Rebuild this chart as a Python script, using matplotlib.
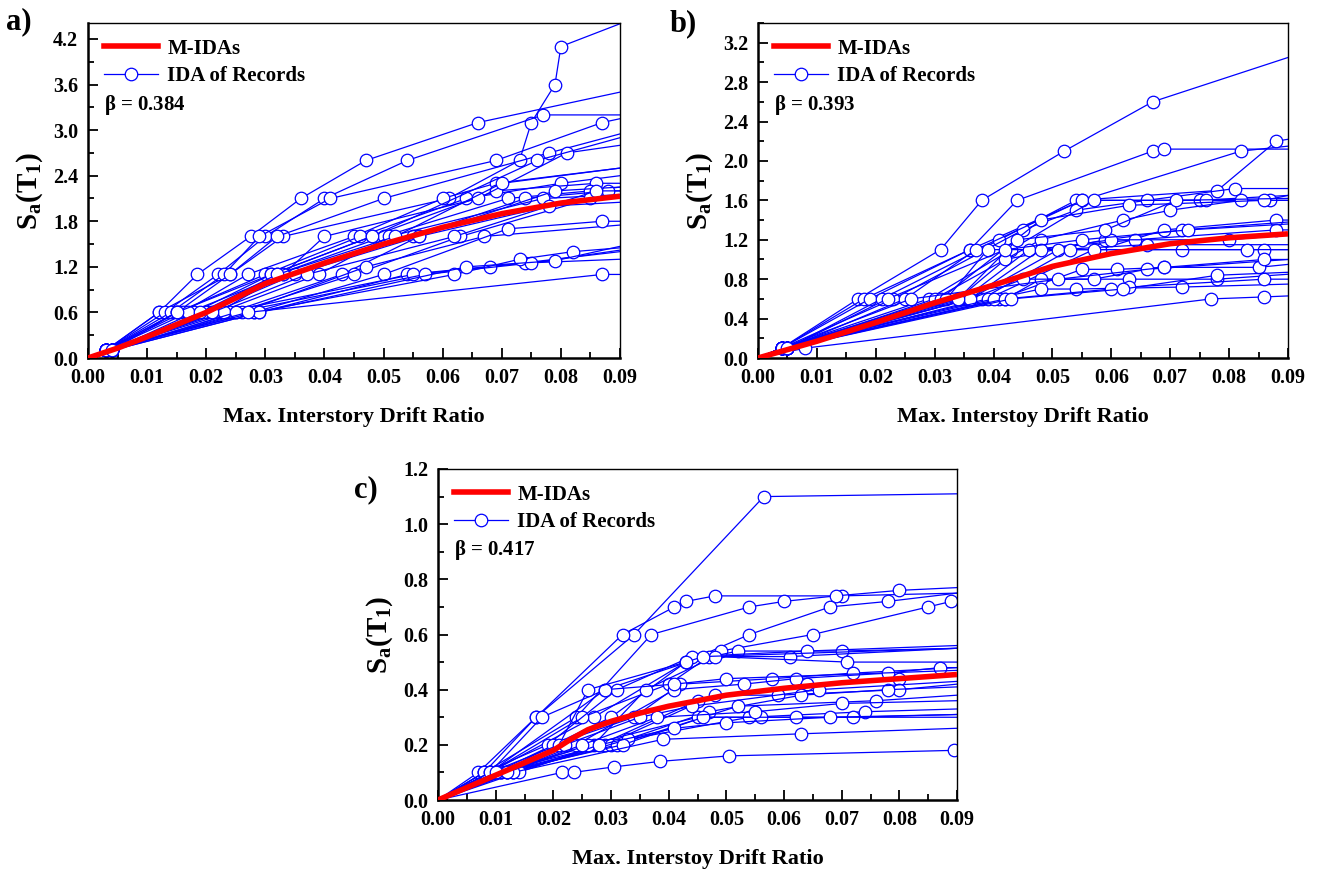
import numpy as np
import matplotlib
matplotlib.use("Agg")
import matplotlib.pyplot as plt
from matplotlib.lines import Line2D
from matplotlib.ticker import MultipleLocator, FormatStrFormatter

plt.rcParams['font.family'] = 'Liberation Serif'
plt.rcParams['font.weight'] = 'bold'
plt.rcParams['mathtext.fontset'] = 'custom'
plt.rcParams['mathtext.rm'] = 'Liberation Serif:bold'
plt.rcParams['mathtext.it'] = 'Liberation Serif:bold'
plt.rcParams['mathtext.bf'] = 'Liberation Serif:bold'

# IDA curves of the records, (drift, Sa) points, origin added when drawn
rec_a = [
    [(0.003, 0.1), (0.012, 0.6), (0.024, 1.1), (0.033, 1.6), (0.061, 2.1), (0.073, 2.6), (0.075, 3.1), (0.079, 3.6), (0.080, 4.1), (0.09, 4.4)],
    [(0.003, 0.1), (0.012, 0.6), (0.0185, 1.1), (0.0275, 1.6), (0.036, 2.1), (0.047, 2.6), (0.066, 3.1), (0.09, 3.5)],
    [(0.003, 0.1), (0.013, 0.6), (0.022, 1.1), (0.030, 1.6), (0.040, 2.1), (0.054, 2.6), (0.077, 3.2), (0.09, 3.2)],
    [(0.003, 0.1), (0.014, 0.6), (0.023, 1.1), (0.029, 1.6), (0.041, 2.1), (0.069, 2.6), (0.087, 3.1), (0.09, 3.15)],
    [(0.004, 0.1), (0.015, 0.6), (0.024, 1.1), (0.032, 1.6), (0.050, 2.1), (0.078, 2.7), (0.09, 2.95)],
    [(0.003, 0.1), (0.016, 0.6), (0.027, 1.1), (0.045, 1.6), (0.060, 2.1), (0.069, 2.3), (0.09, 2.5)],
    [(0.003, 0.1), (0.015, 0.6), (0.030, 1.1), (0.046, 1.6), (0.064, 2.1), (0.080, 2.3), (0.09, 2.4)],
    [(0.004, 0.1), (0.018, 0.6), (0.031, 1.1), (0.048, 1.6), (0.069, 2.2), (0.086, 2.3), (0.09, 2.3)],
    [(0.004, 0.1), (0.020, 0.6), (0.032, 1.1), (0.050, 1.6), (0.071, 2.1), (0.085, 2.2), (0.09, 2.25)],
    [(0.003, 0.1), (0.022, 0.6), (0.033, 1.1), (0.055, 1.6), (0.074, 2.1), (0.088, 2.2), (0.09, 2.2)],
    [(0.004, 0.1), (0.022, 0.6), (0.039, 1.1), (0.051, 1.6), (0.077, 2.1), (0.09, 2.15)],
    [(0.003, 0.1), (0.024, 0.6), (0.043, 1.1), (0.056, 1.6), (0.079, 2.2), (0.09, 2.25)],
    [(0.004, 0.1), (0.025, 0.6), (0.045, 1.1), (0.063, 1.6), (0.085, 2.1), (0.09, 2.15)],
    [(0.003, 0.1), (0.020, 0.6), (0.035, 1.1), (0.056, 1.6), (0.078, 2.0), (0.09, 2.05)],
    [(0.004, 0.1), (0.026, 0.6), (0.047, 1.2), (0.067, 1.6), (0.09, 1.75)],
    [(0.003, 0.1), (0.028, 0.6), (0.050, 1.1), (0.071, 1.7), (0.087, 1.8), (0.09, 1.8)],
    [(0.004, 0.1), (0.029, 0.6), (0.054, 1.1), (0.074, 1.25), (0.09, 1.3)],
    [(0.003, 0.1), (0.023, 0.6), (0.055, 1.1), (0.068, 1.2), (0.09, 1.4)],
    [(0.004, 0.1), (0.025, 0.6), (0.057, 1.1), (0.075, 1.25), (0.09, 1.42)],
    [(0.003, 0.1), (0.028, 0.6), (0.062, 1.1), (0.073, 1.3), (0.082, 1.4), (0.09, 1.45)],
    [(0.004, 0.1), (0.029, 0.6), (0.064, 1.2), (0.079, 1.28), (0.09, 1.47)],
    [(0.003, 0.1), (0.027, 0.6), (0.087, 1.1), (0.09, 1.1)],
    [(0.004, 0.1), (0.021, 0.6), (0.037, 1.1), (0.062, 1.6), (0.086, 2.2), (0.09, 2.2)],
    [(0.003, 0.1), (0.017, 0.6), (0.033, 1.1), (0.040, 1.6), (0.066, 2.1), (0.081, 2.7), (0.09, 2.8)],
    [(0.003, 0.1), (0.015, 0.6), (0.031, 1.1), (0.048, 1.6), (0.076, 2.6), (0.09, 2.9)],
    [(0.004, 0.1), (0.019, 0.6), (0.032, 1.1), (0.052, 1.6), (0.070, 2.3), (0.09, 2.5)],
]

rec_b = [
    [(0.004, 0.1), (0.017, 0.6), (0.031, 1.1), (0.038, 1.6), (0.052, 2.1), (0.067, 2.6), (0.09, 3.05)],
    [(0.004, 0.1), (0.018, 0.6), (0.036, 1.1), (0.044, 1.6), (0.067, 2.1), (0.069, 2.12), (0.09, 2.12)],
    [(0.004, 0.1), (0.019, 0.6), (0.036, 1.1), (0.055, 1.6), (0.082, 2.1), (0.09, 2.15)],
    [(0.005, 0.1), (0.021, 0.6), (0.041, 1.2), (0.054, 1.6), (0.078, 1.7), (0.088, 2.2), (0.09, 2.22)],
    [(0.004, 0.1), (0.023, 0.6), (0.045, 1.3), (0.054, 1.5), (0.066, 1.6), (0.081, 1.72), (0.09, 1.72)],
    [(0.005, 0.1), (0.025, 0.6), (0.037, 1.1), (0.055, 1.6), (0.075, 1.6), (0.09, 1.65)],
    [(0.004, 0.1), (0.029, 0.6), (0.043, 1.1), (0.057, 1.6), (0.076, 1.6), (0.087, 1.6), (0.09, 1.6)],
    [(0.005, 0.1), (0.030, 0.6), (0.048, 1.2), (0.062, 1.4), (0.070, 1.5), (0.082, 1.6), (0.09, 1.6)],
    [(0.004, 0.1), (0.031, 0.6), (0.048, 1.4), (0.063, 1.55), (0.086, 1.6), (0.09, 1.65)],
    [(0.004, 0.1), (0.032, 0.6), (0.039, 1.1), (0.058, 1.1), (0.069, 1.3), (0.088, 1.4), (0.09, 1.4)],
    [(0.005, 0.1), (0.034, 0.6), (0.042, 1.0), (0.059, 1.2), (0.072, 1.3), (0.09, 1.38)],
    [(0.004, 0.1), (0.035, 0.6), (0.046, 1.1), (0.064, 1.2), (0.088, 1.3), (0.09, 1.3)],
    [(0.005, 0.1), (0.036, 0.6), (0.048, 1.1), (0.060, 1.2), (0.080, 1.2), (0.09, 1.25)],
    [(0.004, 0.1), (0.036, 0.6), (0.051, 1.1), (0.066, 1.15), (0.09, 1.15)],
    [(0.005, 0.1), (0.038, 0.6), (0.053, 1.1), (0.072, 1.1), (0.086, 1.1), (0.09, 1.1)],
    [(0.004, 0.1), (0.039, 0.6), (0.057, 1.1), (0.083, 1.1), (0.09, 1.1)],
    [(0.005, 0.1), (0.041, 0.6), (0.055, 0.9), (0.061, 0.9), (0.069, 0.92), (0.085, 0.92), (0.09, 0.95)],
    [(0.004, 0.1), (0.042, 0.6), (0.048, 0.8), (0.063, 0.8), (0.078, 0.8), (0.09, 0.85)],
    [(0.005, 0.1), (0.036, 0.6), (0.045, 0.8), (0.057, 0.8), (0.066, 0.9), (0.09, 1.0)],
    [(0.004, 0.1), (0.040, 0.6), (0.048, 0.7), (0.054, 0.7), (0.072, 0.72), (0.09, 0.75)],
    [(0.005, 0.1), (0.042, 0.6), (0.060, 0.7), (0.063, 0.72), (0.086, 0.8), (0.09, 0.8)],
    [(0.008, 0.1), (0.077, 0.6), (0.086, 0.62), (0.09, 0.63)],
    [(0.004, 0.1), (0.026, 0.6), (0.051, 0.8), (0.069, 0.92), (0.086, 1.0), (0.09, 1.0)],
    [(0.005, 0.1), (0.043, 0.6), (0.062, 0.7), (0.078, 0.84), (0.09, 0.87)],
    [(0.004, 0.1), (0.034, 0.6), (0.044, 1.2), (0.059, 1.3), (0.071, 1.6), (0.09, 1.62)],
    [(0.005, 0.1), (0.022, 0.6), (0.042, 1.1), (0.055, 1.2), (0.073, 1.3), (0.09, 1.36)],
]

rec_c = [
    [(0.007, 0.1), (0.017, 0.3), (0.034, 0.6), (0.0565, 1.1), (0.09, 1.11)],
    [(0.008, 0.1), (0.017, 0.3), (0.032, 0.6), (0.041, 0.7), (0.043, 0.72), (0.048, 0.74), (0.07, 0.74), (0.09, 0.75)],
    [(0.008, 0.1), (0.024, 0.3), (0.037, 0.6), (0.054, 0.7), (0.060, 0.72), (0.069, 0.74), (0.080, 0.76), (0.09, 0.77)],
    [(0.009, 0.1), (0.027, 0.3), (0.043, 0.5), (0.054, 0.6), (0.068, 0.7), (0.078, 0.72), (0.09, 0.75)],
    [(0.009, 0.1), (0.029, 0.4), (0.049, 0.54), (0.065, 0.6), (0.085, 0.7), (0.089, 0.72), (0.09, 0.72)],
    [(0.010, 0.1), (0.030, 0.3), (0.043, 0.5), (0.052, 0.54), (0.07, 0.54), (0.09, 0.55)],
    [(0.009, 0.1), (0.025, 0.3), (0.040, 0.42), (0.047, 0.52), (0.061, 0.52), (0.09, 0.55)],
    [(0.008, 0.1), (0.019, 0.2), (0.031, 0.4), (0.044, 0.52), (0.064, 0.54), (0.09, 0.56)],
    [(0.010, 0.1), (0.027, 0.2), (0.036, 0.4), (0.048, 0.52), (0.071, 0.5), (0.09, 0.5)],
    [(0.011, 0.1), (0.020, 0.2), (0.034, 0.3), (0.042, 0.42), (0.058, 0.44), (0.072, 0.46), (0.09, 0.48)],
    [(0.012, 0.1), (0.024, 0.2), (0.041, 0.4), (0.053, 0.42), (0.062, 0.44), (0.078, 0.46), (0.087, 0.48), (0.09, 0.48)],
    [(0.013, 0.1), (0.028, 0.2), (0.045, 0.36), (0.064, 0.42), (0.080, 0.44), (0.09, 0.45)],
    [(0.010, 0.1), (0.029, 0.2), (0.048, 0.38), (0.059, 0.38), (0.080, 0.40), (0.09, 0.42)],
    [(0.011, 0.1), (0.030, 0.2), (0.047, 0.32), (0.063, 0.38), (0.078, 0.40), (0.09, 0.41)],
    [(0.012, 0.1), (0.031, 0.2), (0.052, 0.34), (0.076, 0.36), (0.09, 0.38)],
    [(0.013, 0.1), (0.033, 0.22), (0.054, 0.30), (0.074, 0.32), (0.09, 0.33)],
    [(0.012, 0.1), (0.026, 0.2), (0.045, 0.30), (0.056, 0.30), (0.072, 0.30), (0.09, 0.31)],
    [(0.011, 0.1), (0.032, 0.2), (0.046, 0.30), (0.062, 0.30), (0.09, 0.30)],
    [(0.014, 0.1), (0.028, 0.2), (0.041, 0.26), (0.050, 0.28), (0.068, 0.30), (0.09, 0.31)],
    [(0.013, 0.1), (0.039, 0.22), (0.063, 0.24), (0.09, 0.26)],
    [(0.0215, 0.1), (0.0235, 0.1), (0.0305, 0.12), (0.0385, 0.14), (0.0505, 0.16), (0.0895, 0.18), (0.09, 0.18)],
    [(0.009, 0.1), (0.018, 0.3), (0.029, 0.4), (0.041, 0.42), (0.050, 0.44), (0.09, 0.47)],
    [(0.009, 0.1), (0.021, 0.2), (0.026, 0.4), (0.043, 0.5), (0.046, 0.52), (0.09, 0.55)],
    [(0.010, 0.1), (0.022, 0.2), (0.035, 0.3), (0.044, 0.34), (0.066, 0.40), (0.09, 0.43)],
    [(0.012, 0.1), (0.025, 0.2), (0.038, 0.3), (0.055, 0.32), (0.070, 0.35), (0.09, 0.36)],
]

# median IDA curves
med_a_x = [0, 0.005, 0.01, 0.02, 0.03, 0.04, 0.05, 0.06, 0.07, 0.08, 0.09]
med_a_y = [0, 0.13, 0.28, 0.60, 0.98, 1.25, 1.50, 1.72, 1.90, 2.04, 2.13]
med_b_x = [0, 0.01, 0.02, 0.03, 0.04, 0.05, 0.06, 0.07, 0.08, 0.09]
med_b_y = [0, 0.17, 0.36, 0.56, 0.74, 0.93, 1.06, 1.16, 1.22, 1.26]
med_c_x = [0, 0.005, 0.01, 0.015, 0.02, 0.023, 0.026, 0.03, 0.035, 0.04, 0.05, 0.06, 0.07, 0.08, 0.09]
med_c_y = [0, 0.045, 0.09, 0.135, 0.18, 0.22, 0.255, 0.285, 0.315, 0.34, 0.38, 0.405, 0.425, 0.44, 0.455]

betas = ['0.384', '0.393', '0.417']
xlabels = ['Max. Interstory Drift Ratio', 'Max. Interstoy Drift Ratio', 'Max. Interstoy Drift Ratio']
panel_tags = ['a)', 'b)', 'c)']

fig = plt.figure(figsize=(13.22, 8.74), dpi=100)
W, H = 1322.0, 874.0
boxes = [(88, 23, 620, 358), (758, 23, 1288, 358), (438, 469, 957, 800)]
ylims = [(0, 4.41, 0.6), (0, 3.4, 0.4), (0, 1.2, 0.2)]
recs = [rec_a, rec_b, rec_c]
meds = [(med_a_x, med_a_y), (med_b_x, med_b_y), (med_c_x, med_c_y)]
tag_pos = [(6, 22), (670, 24), (354, 490)]

blue = '#0000ff'
for i in range(3):
    l, t, r, b = boxes[i]
    ax = fig.add_axes([l / W, 1 - b / H, (r - l) / W, (b - t) / H])
    for rec in recs[i]:
        xs = [0] + [p[0] for p in rec]
        ys = [0] + [p[1] for p in rec]
        ax.plot(xs, ys, color=blue, lw=0.9, marker='o', ms=9, mfc='white',
                mec=blue, mew=0.9, markevery=list(range(1, len(xs) - 1)))
    ax.plot(meds[i][0], meds[i][1], color='#ff0000', lw=4, solid_capstyle='butt', zorder=5)

    ax.set_xlim(0, 0.09)
    ax.set_ylim(ylims[i][0], ylims[i][1])
    ax.xaxis.set_major_locator(MultipleLocator(0.01))
    ax.xaxis.set_minor_locator(MultipleLocator(0.005))
    ax.yaxis.set_major_locator(MultipleLocator(ylims[i][2]))
    ax.yaxis.set_minor_locator(MultipleLocator(ylims[i][2] / 2))
    ax.xaxis.set_major_formatter(FormatStrFormatter('%.2f'))
    ax.yaxis.set_major_formatter(FormatStrFormatter('%.1f'))
    ax.tick_params(which='both', direction='in', top=False, right=False,
                   labelsize=14.5, width=1.3)
    ax.tick_params(which='major', length=7, pad=7)
    ax.tick_params(which='minor', length=4)
    for lab in ax.get_xticklabels() + ax.get_yticklabels():
        lab.set_fontweight('bold')
    for s in ['left', 'bottom']:
        ax.spines[s].set_linewidth(1.8)
    for s in ['top', 'right']:
        ax.spines[s].set_linewidth(1.0)

    ax.set_xlabel(xlabels[i], fontsize=16, fontweight='bold', labelpad=14)
    ax.set_ylabel(r'$\mathbf{S_a(T_1)}$', fontsize=21, labelpad=6)

    handles = [Line2D([], [], color='#ff0000', lw=4),
               Line2D([], [], color=blue, lw=0.9, marker='o', ms=9, mfc='white', mec=blue, mew=0.9)]
    leg = ax.legend(handles, ['M-IDAs', 'IDA of Records'], loc='upper left', frameon=False,
                    prop={'weight': 'bold', 'size': 15}, handlelength=2.6,
                    borderaxespad=0.35, labelspacing=0.35, handletextpad=0.45)
    ax.text(0.03, 0.755, r'$\mathbf{\beta}$ = ' + betas[i], transform=ax.transAxes,
            fontsize=15, fontweight='bold', va='center')
    fig.text(tag_pos[i][0] / W, 1 - tag_pos[i][1] / H, panel_tags[i], fontsize=22,
             fontweight='bold', va='center')

fig.savefig('out.png', dpi=100)
